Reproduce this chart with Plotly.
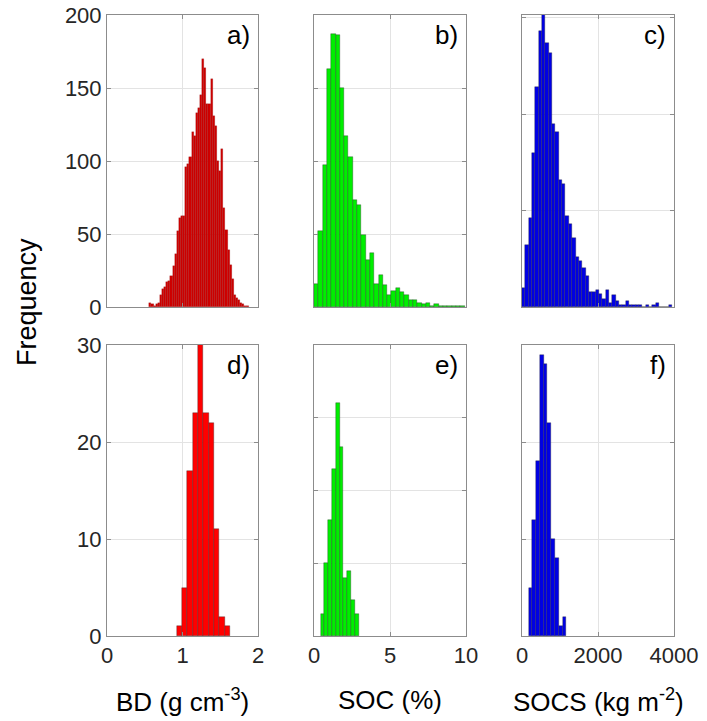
import plotly.graph_objects as go

# histogram counts per bin
# a) BD, all samples
bd_all_start, bd_all_width = 0.56, 0.028
bd_all_counts = [3, 2, 1, 2, 3, 8, 12, 14, 17, 18, 21, 28, 36, 52, 61, 62, 62, 96, 98, 103,
                 120, 117, 133, 136, 145, 170, 164, 139, 139, 156, 131, 124, 100, 93, 108,
                 68, 53, 39, 29, 19, 8, 6, 5, 3, 2, 1, 1]
# b) SOC, all samples
soc_all_start, soc_all_width = 0.0, 0.283
soc_all_counts = [16, 52, 97, 163, 187, 186, 150, 117, 103, 73, 70, 49, 32, 37, 16, 22, 15, 8,
                  11, 13, 10, 8, 5, 5, 3, 2, 3, 1, 2, 1, 1, 1, 1, 1, 1]
# c) SOCS, all samples
socs_all_start, socs_all_width = 0.0, 88.0
socs_all_counts = [10, 32, 46, 80, 114, 143, 155, 137, 132, 95, 91, 66, 64, 47, 43, 36, 26, 24,
                   20, 16, 8, 8, 9, 7, 4, 9, 2, 6, 3, 1, 1, 3, 1, 1, 1, 1, 0, 1, 0, 1, 2, 0,
                   0, 0, 1]
# d) BD, subset
bd_sub_start, bd_sub_width = 0.923, 0.0706
bd_sub_counts = [1, 5, 17, 23, 31, 23, 22, 11, 2, 1]
# e) SOC, subset
soc_sub_start, soc_sub_width = 0.44, 0.25
soc_sub_counts = [3, 10, 16, 23, 32, 26, 8, 9, 5, 3]
# f) SOCS, subset
socs_sub_start, socs_sub_width = 175.0, 99.0
socs_sub_counts = [5, 12, 18, 29, 28, 22, 10, 8, 1, 2]

x_ticks = [[0, 1, 2], [0, 5, 10], [0, 2000, 4000]]
x_ranges = [[0, 2], [0, 10], [0, 4000]]
y_top_ticks = [[0, 50, 100, 150, 200], [0, 50, 100, 150, 200], [0, 50, 100, 150]]
y_top_ranges = [[0, 200], [0, 200], [0, 151.5]]
y_bot_ticks = [[0, 10, 20, 30], [0, 10, 20, 30, 40], [0, 10, 20, 30]]
y_bot_ranges = [[0, 30], [0, 40], [0, 30]]
panel_labels = ["a)", "b)", "c)", "d)", "e)", "f)"]
x_titles = ["BD (g cm<sup>-3</sup>)", "SOC (%)", "SOCS (kg m<sup>-2</sup>)"]

panels = [
    (bd_all_start, bd_all_width, bd_all_counts, "#d00000", "rgba(90,0,0,0.35)"),
    (soc_all_start, soc_all_width, soc_all_counts, "#00ee00", "rgba(40,40,40,0.7)"),
    (socs_all_start, socs_all_width, socs_all_counts, "#0000e6", "rgba(40,40,40,0.7)"),
    (bd_sub_start, bd_sub_width, bd_sub_counts, "#ff0000", "rgba(40,40,40,0.7)"),
    (soc_sub_start, soc_sub_width, soc_sub_counts, "#00ee00", "rgba(40,40,40,0.7)"),
    (socs_sub_start, socs_sub_width, socs_sub_counts, "#0000e6", "rgba(40,40,40,0.7)"),
]

W, H = 707, 721
OFF = 8     # page body margin
col_px = [(107, 258), (314, 466), (522, 674)]
row_px = [(15, 307), (345, 636)]


def px_x(v):
    return (v - OFF) / W


def px_y(v):
    return 1 - (v - OFF) / H


FONT = "Liberation Sans, Arial"
fig = go.Figure()
tick_font = dict(family=FONT, size=22, color="#262626")
ann = []

for i, (start, width, counts, color, edge) in enumerate(panels):
    r, c = divmod(i, 3)
    sfx = "" if i == 0 else str(i + 1)
    centers = [start + width * (k + 0.5) for k in range(len(counts))]
    fig.add_trace(go.Bar(
        x=centers, y=counts, width=[width] * len(counts),
        marker=dict(color=color, line=dict(color=edge, width=0.5)),
        xaxis="x" + sfx, yaxis="y" + sfx, showlegend=False,
    ))
    x0, x1 = col_px[c]
    y0, y1 = row_px[r]
    axis_style = dict(
        showline=True, linecolor="#8c8c8c", linewidth=1, mirror="ticks",
        ticks="inside", ticklen=4, tickcolor="#8c8c8c",
        showgrid=True, gridcolor="#e3e3e3", gridwidth=1, zeroline=False,
        tickfont=tick_font, automargin=False, ticklabeloverflow="allow",
    )
    fig.layout["xaxis" + sfx] = dict(
        axis_style, domain=[px_x(x0), px_x(x1)], anchor="y" + sfx,
        range=x_ranges[c], tickvals=x_ticks[c], ticktext=[str(v) for v in x_ticks[c]],
        showticklabels=(r == 1),
    )
    yt = y_top_ticks[c] if r == 0 else y_bot_ticks[c]
    yr = y_top_ranges[c] if r == 0 else y_bot_ranges[c]
    fig.layout["yaxis" + sfx] = dict(
        axis_style, domain=[px_y(y1), px_y(y0)], anchor="x" + sfx,
        range=yr, tickvals=yt, ticktext=[str(v) for v in yt],
        showticklabels=(c == 0),
    )
    ann.append(dict(
        text=panel_labels[i], xref=f"x{sfx} domain", yref=f"y{sfx} domain",
        x=0.96, y=0.99, xanchor="right", yanchor="top", showarrow=False,
        font=dict(family=FONT, size=26, color="black"),
    ))

for c, title in enumerate(x_titles):
    x0, x1 = col_px[c]
    ann.append(dict(
        text=title, xref="paper", yref="paper",
        x=px_x((x0 + x1) / 2), y=px_y(700), xanchor="center", yanchor="middle",
        showarrow=False, font=dict(family=FONT, size=26, color="black"),
    ))

ann.append(dict(
    text="Frequency", xref="paper", yref="paper", x=px_x(27), y=px_y(302),
    textangle=-90, xanchor="center", yanchor="middle", showarrow=False,
    font=dict(family=FONT, size=27, color="black"),
))

fig.update_layout(
    width=W, height=H, margin=dict(l=0, r=0, t=0, b=0),
    paper_bgcolor="white", plot_bgcolor="white",
    bargap=0, annotations=ann,
)

fig.write_html("out.html")
